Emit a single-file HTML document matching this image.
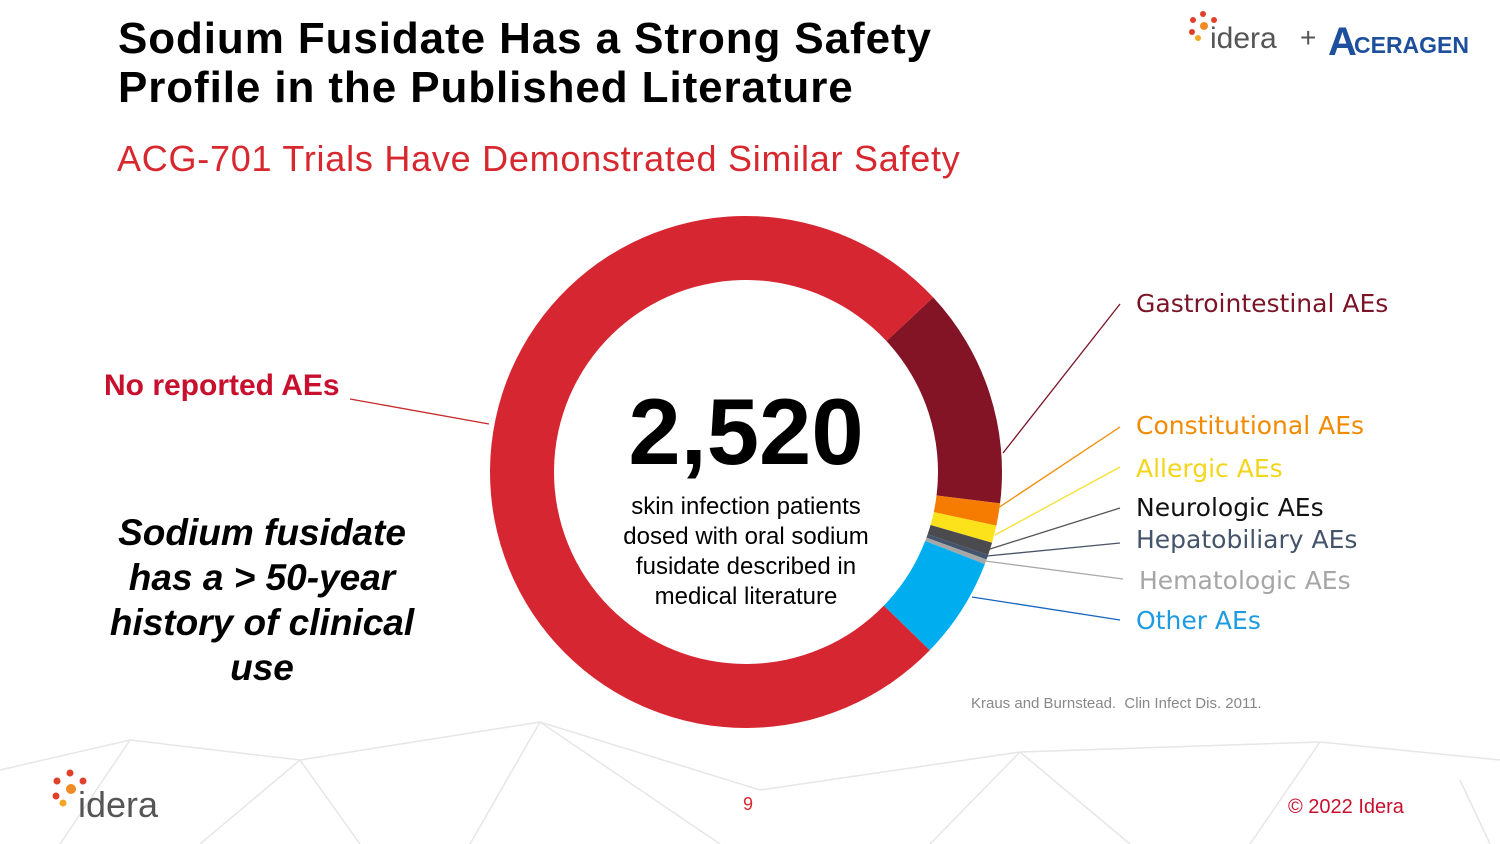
<!DOCTYPE html>
<html><head><meta charset="utf-8"><style>
body{margin:0;width:1500px;height:844px;background:#fff;position:relative;overflow:hidden;font-family:"Liberation Sans",sans-serif}
.a{position:absolute;white-space:nowrap}
.t{left:118px;top:14px;font-size:44px;font-weight:bold;line-height:49px;color:#000;letter-spacing:0.9px}
.st{left:117px;top:138px;font-size:36px;color:#d7282f;letter-spacing:0.75px}
.lab{font-size:25px;font-family:"DejaVu Sans","Liberation Sans",sans-serif}
</style></head><body>
<svg class="a" style="left:0;top:0" width="1500" height="844">
<g stroke="#e6e6e6" stroke-width="1.5" fill="none">
<polyline points="0,770 130,740 300,760 540,722 760,790 1020,752 1320,742 1500,760"/>
<polyline points="130,740 60,844"/><polyline points="300,760 360,844"/><polyline points="540,722 470,844"/>
<polyline points="540,722 720,844"/><polyline points="1020,752 930,844"/><polyline points="1020,752 1130,844"/>
<polyline points="1320,742 1250,844"/><polyline points="1460,780 1490,844"/><polyline points="300,760 200,844"/>
</g></svg>
<div class="a t">Sodium Fusidate Has a Strong Safety<br>Profile in the Published Literature</div>
<div class="a st">ACG-701 Trials Have Demonstrated Similar Safety</div>
<div class="a" style="left:1188px;top:8px;width:300px;height:55px">
<svg width="30" height="40" style="position:absolute;left:0;top:0"><g fill="#e0412a"><circle cx="15" cy="6" r="3"/><circle cx="5" cy="12" r="3"/><circle cx="26" cy="12" r="3"/><circle cx="4" cy="24" r="3"/><circle cx="16" cy="18" r="4" fill="#f08a24"/><circle cx="10" cy="30" r="3" fill="#f5a623"/></g></svg>
<span class="a" style="left:22px;top:14px;font-size:30px;color:#555">idera</span>
<span class="a" style="left:112px;top:14px;font-size:28px;color:#555">+</span>
<span class="a" style="left:140px;top:14px;font-size:40px;font-weight:bold;color:#1d4f9c;line-height:40px">A</span>
<span class="a" style="left:166px;top:24px;font-size:23px;font-weight:bold;color:#1d4f9c">CERAGEN</span>
</div>
<svg class="a" style="left:0;top:0" width="1500" height="844" id="chart">
<g id="slices"></g>
<g fill="none" stroke-width="1.3">
<line x1="350" y1="399" x2="489" y2="424" stroke="#c62828"/>
<line x1="1003" y1="453" x2="1120" y2="304" stroke="#7a1426"/>
<line x1="998" y1="508" x2="1120" y2="427" stroke="#f28a00"/>
<line x1="995" y1="535" x2="1120" y2="467" stroke="#f5e030"/>
<line x1="990" y1="549" x2="1120" y2="508" stroke="#555"/>
<line x1="987" y1="556" x2="1120" y2="543" stroke="#4a5568"/>
<line x1="985" y1="561" x2="1123" y2="579" stroke="#aaa"/>
<line x1="972" y1="597" x2="1120" y2="620" stroke="#1565c0"/>
</g>
</svg>
<div class="a" style="left:546px;top:378px;width:400px;text-align:center;font-size:94px;font-weight:bold;color:#000">2,520</div>
<div class="a" style="left:496px;top:492px;width:500px;text-align:center;font-size:24px;line-height:30px;color:#000;white-space:normal">skin infection patients<br>dosed with oral sodium<br>fusidate described in<br>medical literature</div>
<div class="a" style="left:104px;top:369px;font-size:30px;font-weight:bold;color:#c8102e">No reported AEs</div>
<div class="a lab" style="left:1136px;top:289px;color:#7a1426">Gastrointestinal AEs</div>
<div class="a lab" style="left:1136px;top:411px;color:#f28a00">Constitutional AEs</div>
<div class="a lab" style="left:1136px;top:454px;color:#f2d51c">Allergic AEs</div>
<div class="a lab" style="left:1136px;top:493px;color:#111">Neurologic AEs</div>
<div class="a lab" style="left:1136px;top:525px;color:#44546a">Hepatobiliary AEs</div>
<div class="a lab" style="left:1139px;top:566px;color:#a6a6a6">Hematologic AEs</div>
<div class="a lab" style="left:1136px;top:606px;color:#1e9be0">Other AEs</div>
<div class="a" style="left:82px;top:510px;width:360px;text-align:center;font-size:37px;line-height:45px;font-weight:bold;font-style:italic;color:#000;white-space:normal">Sodium fusidate has a &gt; 50-year history of clinical use</div>
<div class="a" style="left:971px;top:695px;font-size:15px;color:#888">Kraus and Burnstead.&nbsp; Clin Infect Dis. 2011.</div>
<div class="a" style="left:52px;top:768px;width:130px;height:60px">
<svg width="36" height="44" style="position:absolute;left:0;top:0"><g fill="#e0412a"><circle cx="18" cy="5" r="3.5"/><circle cx="5" cy="13" r="3.5"/><circle cx="31" cy="13" r="3.5"/><circle cx="4" cy="28" r="3.5"/><circle cx="19" cy="21" r="5" fill="#f08a24"/><circle cx="11" cy="35" r="3.5" fill="#f5a623"/></g></svg>
<span class="a" style="left:26px;top:16px;font-size:36px;color:#555">idera</span>
</div>
<div class="a" style="left:743px;top:794px;font-size:18px;color:#d7282f">9</div>
<div class="a" style="left:1288px;top:796px;font-size:20px;color:#c8102e">© 2022 Idera</div>
<script>
const categories=["Gastrointestinal AEs","Constitutional AEs","Allergic AEs","Neurologic AEs","Hepatobiliary AEs","Hematologic AEs","Other AEs","No reported AEs"];
const shares=[13.9,1.4,1.1,0.8,0.3,0.3,6.4,75.8];
const colors=["#821426","#f57c00","#fce21a","#4a4a4f","#44546a","#a6a6a6","#00aeef","#d62631"];
const startDeg=47;
const cx=746,cy=472,R=256,r=192;
function pt(deg,rad){const a=(deg-90)*Math.PI/180;return [cx+rad*Math.cos(a),cy+rad*Math.sin(a)];}
const total=shares.reduce((s,v)=>s+v,0);
let ang=startDeg;
const g=document.getElementById('slices');
shares.forEach((v,i)=>{
  const sweep=v/total*360,a0=ang,a1=ang+sweep;ang=a1;
  const L=sweep>180?1:0;
  const p0=pt(a0,R),p1=pt(a1,R),q1=pt(a1,r),q0=pt(a0,r);
  const p=document.createElementNS('http://www.w3.org/2000/svg','path');
  p.setAttribute('d',`M${p0[0]},${p0[1]}A${R},${R} 0 ${L} 1 ${p1[0]},${p1[1]}L${q1[0]},${q1[1]}A${r},${r} 0 ${L} 0 ${q0[0]},${q0[1]}Z`);
  p.setAttribute('fill',colors[i]);
  
  
  g.appendChild(p);
});
</script>
</body></html>
